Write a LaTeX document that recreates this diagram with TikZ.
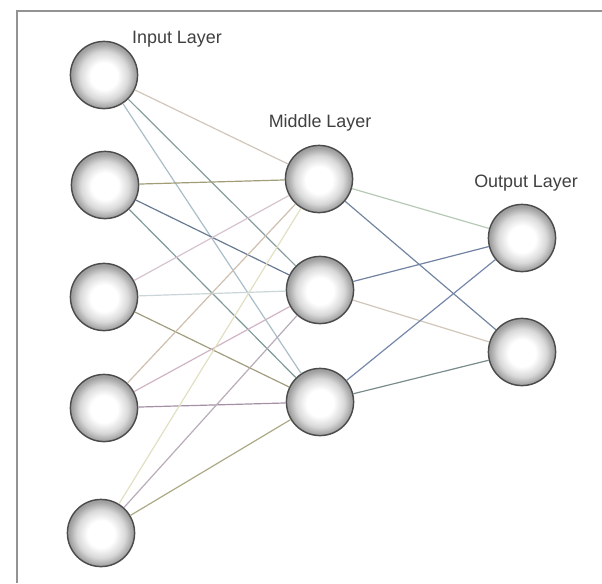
\documentclass[tikz,border=0pt]{standalone}
\usepackage{fontspec}
\setmainfont{Liberation Sans}
\usepackage{tikz}

\pgfdeclareradialshading{neuronball}{\pgfpoint{0bp}{-1bp}}{color(0bp)=(white); color(10bp)=(white); color(18bp)=(gray!30); color(24bp)=(gray!75); color(50bp)=(gray!75)}

\begin{document}
\begin{tikzpicture}
[x=0.0265cm,y=-0.0265cm,
 neuron/.style={circle,shading=neuronball,draw=gray!60!black,line width=1.1pt,minimum size=1.78cm,inner sep=0pt},
 layerlabel/.style={inner sep=1pt,text=black!75,font=\fontsize{13.5}{15}\selectfont}]
\useasboundingbox[fill=white] (0,0) rectangle (602,583);
\draw[gray!85,line width=1.4pt] (602,11) -- (17,11) -- (17,583);
\node[neuron] (i1) at (104,75) {};
\node[neuron] (i2) at (105,185) {};
\node[neuron] (i3) at (104,297) {};
\node[neuron] (i4) at (104,408) {};
\node[neuron] (i5) at (101,533) {};
\node[neuron] (m1) at (319,179) {};
\node[neuron] (m2) at (320,290) {};
\node[neuron] (m3) at (320,402) {};
\node[neuron] (o1) at (522,238) {};
\node[neuron] (o2) at (522,352) {};
\node[layerlabel] (li) at (177,39) {Input Layer};
\node[layerlabel] (lm) at (320,123) {Middle Layer};
\node[layerlabel] (lo) at (526,183) {Output Layer};
\foreach \from/\to/\col in {i1/m1/orange!20!gray!45,i1/m2/teal!25!gray!75,i1/m3/cyan!25!gray!65,
 i2/m1/olive!30!gray!85,i2/m2/blue!40!teal!25!gray!95,i2/m3/teal!25!gray!80,
 i3/m1/magenta!20!gray!45,i3/m2/cyan!20!gray!40,i3/m3/olive!25!gray!85,
 i4/m1/orange!25!gray!50,i4/m2/magenta!25!gray!55,i4/m3/violet!25!gray!70,
 i5/m1/yellow!35!gray!40,i5/m2/violet!20!gray!55,i5/m3/olive!30!gray!75,
 m1/o1/green!15!gray!50,m1/o2/blue!40!teal!30!gray!85,
 m2/o1/blue!50!teal!30!gray!85,m2/o2/orange!20!gray!45,
 m3/o1/blue!50!teal!35!gray!80,m3/o2/teal!15!gray!90}
\draw[\col,line width=0.9pt] (\from) -- (\to);
\end{tikzpicture}
\end{document}
